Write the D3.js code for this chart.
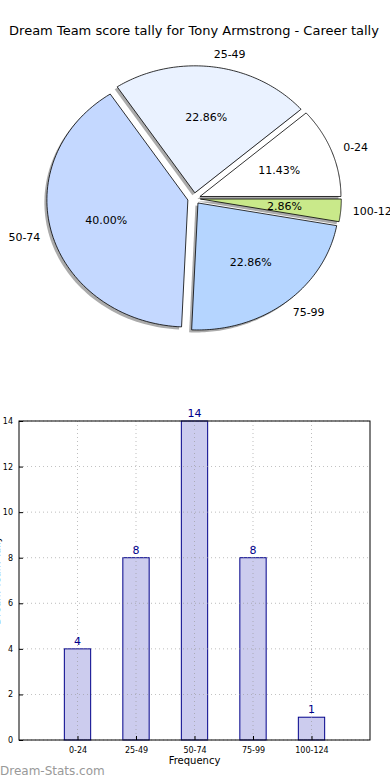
<!DOCTYPE html>
<html><head><meta charset="utf-8">
<script src="https://cdn.jsdelivr.net/npm/d3@7"></script>
<style>body{margin:0;background:#fff}svg{display:block}text{font-family:"DejaVu Sans",sans-serif}</style>
</head><body>
<svg id="c" width="390" height="780"></svg>
<script>
const title = "Dream Team score tally for Tony Armstrong - Career tally";
const categories = ["0-24","25-49","50-74","75-99","100-124"];
const counts = [4, 8, 14, 8, 1];
const pieColors = ["#ffffff","#eaf2ff","#c4d8ff","#b5d5ff","#c9e98a"];
const yTicks = [0,2,4,6,8,10,12,14];
const xLabel = "Frequency";
const yLabel = "Dream Team Tally";
const watermark = "Dream-Stats.com";

const svg = d3.select("#c");
svg.append("text").attr("x",194).attr("y",35).attr("text-anchor","middle")
  .attr("font-size",13).attr("fill","#000").text(title);

// ---- Pie (elliptical, matplotlib style: start at 3 o'clock, counter-clockwise)
const cx = 194, cy = 198.5, rx = 141, ry = 127, expl = 0.045;
const total = d3.sum(counts);
const pieGen = d3.pie().sort(null).value(d=>d)
  .startAngle(Math.PI/2).endAngle(Math.PI/2 - 2*Math.PI);
const arcs = pieGen(counts);
function wedgePath(a0, a1, ox, oy) {
  const n = 80, pts = [[ox, oy]];
  for (let i = 0; i <= n; i++) {
    const t = a0 + (a1 - a0) * i / n;
    pts.push([ox + rx*Math.cos(t), oy - ry*Math.sin(t)]);
  }
  return d3.line()(pts) + "Z";
}
const pieG = svg.append("g");
const wedges = arcs.map((a,i)=>{
  const t0 = Math.PI/2 - a.startAngle, t1 = Math.PI/2 - a.endAngle;
  const mid = (t0+t1)/2;
  const ox = cx + expl*rx*Math.cos(mid), oy = cy - expl*ry*Math.sin(mid);
  return {i, t0, t1, mid, ox, oy, v:a.data};
});
wedges.forEach(w=>{
  pieG.append("path").attr("d", wedgePath(w.t0, w.t1, w.ox-2.5, w.oy+2.5))
    .attr("fill","#666").attr("opacity",0.55);
});
wedges.forEach(w=>{
  pieG.append("path").attr("d", wedgePath(w.t0, w.t1, w.ox, w.oy))
    .attr("fill", pieColors[w.i]).attr("stroke","#000").attr("stroke-width",0.8)
    .attr("stroke-linejoin","round");
});
wedges.forEach(w=>{
  const lx = w.ox + 1.1*rx*Math.cos(w.mid), ly = w.oy - 1.1*ry*Math.sin(w.mid);
  const anchor = Math.cos(w.mid) > 0.05 ? "start" : (Math.cos(w.mid) < -0.05 ? "end" : "middle");
  pieG.append("text").attr("x",lx - (anchor==="start"?2:0) + (anchor==="end"?2:0)).attr("y",ly).attr("dy","0.35em")
    .attr("text-anchor",anchor).attr("font-size",11).attr("fill","#000").text(categories[w.i]);
  const px = w.ox + 0.6*rx*Math.cos(w.mid), py = w.oy - 0.6*ry*Math.sin(w.mid);
  pieG.append("text").attr("x",px).attr("y",py).attr("dy","0.35em")
    .attr("text-anchor","middle").attr("font-size",11).attr("fill","#000")
    .text((w.v/total*100).toFixed(2)+"%");
});

// ---- Bar chart
const L = 19, R = 370, T = 421, B = 740;
const x = d3.scaleLinear().domain([-1, 5]).range([L, R]);
const y = d3.scaleLinear().domain([0, 14]).range([B, T]);
const bw = 0.45;
const g = svg.append("g");
g.selectAll("rect.bar").data(counts).join("rect").attr("class","bar")
  .attr("x",(d,i)=>x(i-bw/2)).attr("width",x(bw)-x(0))
  .attr("y",d=>y(d)).attr("height",d=>y(0)-y(d))
  .attr("fill","#ccccee").attr("stroke","#00008b").attr("stroke-width",1);
g.selectAll("line.hg").data(yTicks).join("line").attr("class","hg")
  .attr("x1",L).attr("x2",R).attr("y1",d=>y(d)).attr("y2",d=>y(d))
  .attr("stroke","#999").attr("stroke-width",0.8).attr("stroke-dasharray","1,3").attr("opacity",0.8);
g.selectAll("line.vg").data(categories).join("line").attr("class","vg")
  .attr("x1",(d,i)=>x(i)).attr("x2",(d,i)=>x(i)).attr("y1",T).attr("y2",B)
  .attr("stroke","#999").attr("stroke-width",0.8).attr("stroke-dasharray","1,3").attr("opacity",0.8);
g.selectAll("text.val").data(counts).join("text").attr("class","val")
  .attr("x",(d,i)=>x(i)).attr("y",d=>y(d)-4).attr("text-anchor","middle")
  .attr("font-size",11).attr("fill","#00008b").text(d=>d);
g.append("rect").attr("x",L).attr("y",T).attr("width",R-L).attr("height",B-T)
  .attr("fill","none").attr("stroke","#000").attr("stroke-width",1);
const yAxis = d3.axisLeft(y).tickValues(yTicks).tickSize(-4).tickPadding(6);
const ya = svg.append("g").attr("transform",`translate(${L},0)`).call(yAxis);
ya.select(".domain").remove();
ya.selectAll("text").attr("font-size",8).attr("font-family","DejaVu Sans, sans-serif");
const xAxis = d3.axisBottom(d3.scalePoint().domain(categories).range([x(0),x(4)])).tickSize(-4).tickPadding(7);
const xa = svg.append("g").attr("transform",`translate(0,${B})`).call(xAxis);
xa.select(".domain").remove();
xa.selectAll("text").attr("font-size",8).attr("font-family","DejaVu Sans, sans-serif");
svg.append("text").attr("x",x(2)).attr("y",764).attr("text-anchor","middle")
  .attr("font-size",10).attr("fill","#000").text(xLabel);
svg.append("text").attr("transform",`translate(0,${(T+B)/2}) rotate(-90)`)
  .attr("text-anchor","middle").attr("font-size",10).attr("fill","#000").text(yLabel);
svg.append("text").attr("x",0).attr("y",775).attr("font-size",12)
  .attr("fill","#999").text(watermark);
</script>
</body></html>
